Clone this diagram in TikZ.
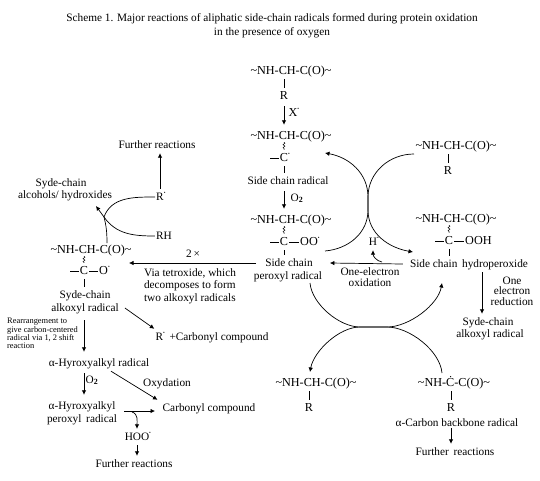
\documentclass[tikz,border=0pt]{standalone}
\usepackage{fontspec}
\setmainfont{Liberation Serif}
\usetikzlibrary{arrows.meta,positioning,calc,decorations.pathmorphing}
\newcommand{\til}{\textasciitilde}
\newcommand{\rad}{\raisebox{6pt}{\fontsize{5}{5}\selectfont\textbullet}}
\newcommand{\otwo}{O\textsubscript{\textbf{2}}}
\tikzset{
  chem/.style={
    font=\fontsize{12.2}{13}\selectfont,
    inner xsep=1pt,
    inner ysep=4pt,
    text height=7pt,
    text depth=1pt
  },
  lab/.style={
    font=\fontsize{11.3}{12.5}\selectfont,
    inner xsep=1pt,
    inner ysep=4pt,
    text height=7pt,
    text depth=1pt
  },
  tinylab/.style={
    font=\fontsize{8.4}{8.4}\selectfont,
    inner sep=0pt,
    align=left
  },
  arrow/.style={-{Latex[length=4.5pt,width=4.5pt]}, line width=.7pt},
  short/.style={shorten >=3pt, shorten <=2pt},
  bond/.style={line width=.7pt},
  wavy/.style={decorate, decoration={snake,amplitude=1pt,segment length=3pt}, line width=.5pt}
}
\begin{document}
\begin{tikzpicture}[x=1pt,y=1pt]
  \useasboundingbox (0,0) rectangle (540,-480);
  % heading
  \node[lab, font=\fontsize{11.3}{12}\selectfont] (title1) at (272,-18) {Scheme 1. Major reactions of aliphatic side-chain radicals formed during protein oxidation};
  \node[lab, font=\fontsize{11.3}{12}\selectfont, below=14pt of title1.center, anchor=center] (title2) {in the presence of oxygen};

  % middle column
  \node[chem] (molA) at (291,-71) {\til NH-CH-C(O)\til};
  \node[chem, below left=25pt and 7pt of molA.center, anchor=center] (rA) {R};
  \node[chem, below right=42pt and 2pt of molA.center, anchor=center] (xA) {X\rlap{\rad}};
  \node[chem, below=65pt of molA.center, anchor=center] (molB) {\til NH-CH-C(O)\til};
  \node[chem, below left=22pt and 7pt of molB.center, anchor=center] (cB) {C\rlap{\rad}};
  \node[lab, below left=45pt and 3pt of molB.center, anchor=center] (sideB) {Side chain radical};
  \node[lab, below right=62pt and 6pt of molB.center, anchor=center] (oB) {\otwo};
  \node[chem, below=84pt of molB.center, anchor=center] (molC) {\til NH-CH-C(O)\til};
  \node[chem, below left=22pt and 7pt of molC.center, anchor=center] (cC) {C};
  \node[chem, right=15pt of cC.center, anchor=west] (ooC) {OO\rlap{\rad}};
  \node[lab, below left=43pt and 2pt of molC.center, anchor=center] (sideC) {Side chain};
  \node[lab, below left=56pt and 3pt of molC.center, anchor=center] (peroC) {peroxyl radical};

  % right column
  \node[chem, above right=74pt and 165pt of molC.center, anchor=center] (molE) {\til NH-CH-C(O)\til};
  \node[chem, below left=25pt and 8pt of molE.center, anchor=center] (rE) {R};
  \node[chem, below=73pt of molE.center, anchor=center] (molF) {\til NH-CH-C(O)\til};
  \node[chem, below left=22pt and 7pt of molF.center, anchor=center] (cF) {C};
  \node[chem, right=15pt of cF.center, anchor=west] (oohF) {OOH};
  \node[lab, below right=45pt and 13pt of molF.center, anchor=center] (sideF) {Side chain\, hydroperoxide};
  \node[lab, below right=62pt and 56pt of molF.center, anchor=center] (oneF) {One};
  \node[lab, below=10pt of oneF.center, anchor=center] (elecF) {electron};
  \node[lab, below=11pt of elecF.center, anchor=center] (redF) {reduction};
  \node[lab, below right=103pt and 32pt of molF.center, anchor=center] (sydeF) {Syde-chain};
  \node[lab, below right=115pt and 34pt of molF.center, anchor=center] (alkF) {alkoxyl radical};
  \node[lab, below left=23pt and 83pt of molF.center, anchor=center] (hF) {H\rlap{\rad}};
  \node[lab, below left=53pt and 86pt of molF.center, anchor=center] (oneOx) {One-electron};
  \node[lab, below=11pt of oneOx.center, anchor=center] (oxOx) {oxidation};

  % bottom right
  \node[chem, below left=164pt and 140pt of molF.center, anchor=center] (molG) {\til NH-CH-C(O)\til};
  \node[chem, below left=25pt and 7pt of molG.center, anchor=center] (rG) {R};
  \node[chem, right=138pt of molG.center, anchor=center] (molH) {\til NH-Ċ-C(O)\til};
  \node[chem, below left=25pt and 3pt of molH.center, anchor=center] (rH) {R};
  \node[lab, below right=40pt and 3pt of molH.center, anchor=center] (alphaH) {α-Carbon backbone radical};
  \node[lab, below right=69pt and 1pt of molH.center, anchor=center] (furH) {Further\, reactions};

  % left column
  \node[chem, below left=30pt and 200pt of molC.center, anchor=center] (molD) {\til NH-CH-C(O)\til};
  \node[chem, below left=21pt and 7pt of molD.center, anchor=center] (cD) {C};
  \node[chem, right=14pt of cD.center, anchor=west] (oD) {O\rlap{\rad}};
  \node[lab, below left=45pt and 6pt of molD.center, anchor=center] (sydeD) {Syde-chain};
  \node[lab, below left=58pt and 6pt of molD.center, anchor=center] (alkD) {alkoxyl radical};
  \node[lab, below right=4pt and 102pt of molD.center, anchor=center] (twoX) {2\,×};
  \node[lab, align=left, text height=, text depth=, below right=36pt and 99pt of molD.center, anchor=center] (via) {Via tetroxide, which\\decomposes to form\\two alkoxyl radicals};
  \node[tinylab, anchor=north west] (rearr) at (7,-318) {Rearrangement to\\give carbon-centered\\radical via 1, 2 shift\\reaction};
  \node[lab, below right=87pt and 121pt of molD.center, anchor=center] (carbR) {R\rad\, +Carbonyl compound};
  \node[lab, below right=113pt and 8pt of molD.center, anchor=center] (hyrD) {α-Hyroxyalkyl radical};
  \node[lab, below right=17pt and 8pt of cD |- hyrD, anchor=center, xshift=0pt] (oH) {\otwo};
  \node[lab, below left=43pt and 17pt of hyrD.center, anchor=center] (hyrA) {α-Hyroxyalkyl};
  \node[lab, below=13pt of hyrA.center, anchor=center] (hyrB) {peroxyl\, radical};
  \node[lab, below right=20pt and 68pt of hyrD.center, anchor=center] (oxyd) {Oxydation};
  \node[lab, below right=45pt and 110pt of hyrD.center, anchor=center] (carbC) {Carbonyl compound};
  \node[lab, below right=74pt and 38pt of hyrD.center, anchor=center] (hoo) {HOO\rlap{\rad}};
  \node[lab, below left=27pt and 3pt of hoo.center, anchor=center] (furD) {Further reactions};

  % top left
  \node[lab, above right=14pt and 73pt of molD.center, anchor=center] (rhT) {RH};
  \node[lab, above left=39pt and 4pt of rhT.center, anchor=center] (rT) {R\rlap{\rad}};
  \node[lab, above left=52pt and 3pt of rT.center, anchor=center] (furT) {Further reactions};
  \node[lab, left=99pt of rT.center, anchor=center, yshift=14pt] (sydeT) {Syde-chain};
  \node[lab, below right=12pt and 4pt of sydeT.center, anchor=center] (alcT) {alcohols/ hydroxides};

  % free ends of the curves
  \coordinate (tipT) at (96,-206);
  \coordinate (joinT) at (104,-217);
  \coordinate (baseT) at (107,-243);
  \coordinate (tipB) at (325,-153);
  \coordinate (startE) at (414,-154);
  \coordinate (crossTop) at (368,-197);
  \coordinate (crossBot) at (368,-210);
  \coordinate (startC) at (325,-251);
  \coordinate (tipF) at (413,-252);
  \coordinate (startP) at (310,-283);
  \coordinate (tipQ) at (442,-283);
  \coordinate (crossL) at (360,-327);
  \coordinate (crossR) at (387,-327);
  \coordinate (startQ) at (442,-373);
  \coordinate (tipS) at (310,-372);
  \coordinate (tipD) at (129,-263);
  \coordinate (midH) at (124,-411);
  \coordinate (tipC) at (155,-411);
  \coordinate (branchH) at (132,-412);
  \coordinate (startH) at (382,-262);

  % bonds
  \draw[bond] (rA |- molA.south) -- (rA);
  \draw[bond] (rE |- molE.south) -- (rE);
  \draw[bond] (rG |- molG.south) -- (rG);
  \draw[bond] (rH |- molH.south) -- (rH);
  \draw[bond] (cB) -- (cB |- sideB.north);
  \draw[bond] (cC) -- (cC |- sideC.north);
  \draw[bond] (cF) -- (cF |- sideF.north);
  \draw[bond] (cD) -- (cD |- sydeD.north);
  \foreach \cn in {cB,cC,cF,cD} {
    \draw[bond] (\cn.west) -- ++(-9,0);
  }
  \draw[bond] (cC) -- (ooC);
  \draw[bond] (cF) -- (oohF);
  \draw[bond] (cD) -- (oD);
  \foreach \cn/\mn in {cB/molB,cC/molC,cF/molF,cD/molD} {
    \draw[wavy] (\cn |- \mn.south) ++(0,2) -- (\cn.north);
  }

  % straight arrows
  \draw[arrow, short] (rA) -- (rA |- molB.north);
  \draw[arrow, short] (cB |- sideB.south) -- (cB |- molC.north);
  \draw[arrow] ([xshift=-8pt]sideC.west) -- (tipD);
  \draw[arrow] ([xshift=-6pt]sideF.west) -- ([xshift=16pt]sideC.east);
  \draw[arrow] ([xshift=13pt]sideF.south) -- ([xshift=-6pt]sydeF.north);
  \draw[arrow] (rH) ++(0,-20) -- (rH |- furH.north);
  \draw[arrow] (rT) -- (rT |- furT.south);
  \draw[arrow, short] (cD |- alkD.south) ++(0,-2) -- (cD |- hyrD.north);
  \draw[arrow, short] (cD |- hyrD.south) -- (cD |- hyrA.north);
  \draw[arrow] ([xshift=5pt]alkD.east) -- (carbR.north west);
  \draw[arrow] ([xshift=12pt]hyrD.south) -- ([xshift=-4pt]carbC.north west);
  \draw[arrow] (midH) -- (tipC);
  \draw[arrow] (hoo) -- (hoo |- furD.north);

  % curved arrows
  \draw[arrow] (baseT) .. controls +(0,12) and +(2,-8) .. (joinT) -- (tipT);
  \draw[bond] (rT.west) to[out=180,in=70] (joinT);
  \draw[bond] (rhT.west) to[out=180,in=-55] (joinT);
  \draw[arrow] (startC) to[out=5,in=-90] (crossBot) -- (crossTop) to[out=90,in=-10] (tipB);
  \draw[arrow] (startE) to[out=180,in=90] (crossTop) -- (crossBot) to[out=-90,in=170] (tipF);
  \draw[arrow] (startP) to[out=-85,in=180,looseness=.8] (crossL) -- (crossR) to[out=0,in=-100,looseness=.8] (tipQ);
  \draw[arrow] (startQ) to[out=95,in=0,looseness=.8] (crossR) -- (crossL) to[out=180,in=80,looseness=.8] (tipS);
  \draw[arrow] (startH) to[out=170,in=-90] (hF.south);
  \draw[arrow] (branchH) to[out=-15,in=90] (hoo.north);
\end{tikzpicture}
\end{document}
